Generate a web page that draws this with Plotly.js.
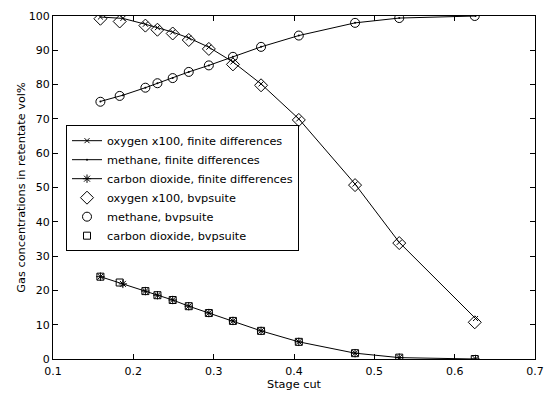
<!DOCTYPE html>
<html>
<head>
<meta charset="utf-8">
<script src="https://cdn.plot.ly/plotly-3.0.1.min.js"></script>
<style>html,body{margin:0;padding:0;background:#fff;}#chart{width:547px;height:394px;}</style>
</head>
<body>
<div id="chart"></div>
<script>
// Stage cut values
const stageCutBvp = [0.159, 0.183, 0.215, 0.230, 0.249, 0.269, 0.294, 0.324, 0.359, 0.406, 0.476, 0.531, 0.625];
const stageCutFd  = [0.159, 0.187, 0.215, 0.230, 0.249, 0.269, 0.294, 0.324, 0.359, 0.406, 0.476, 0.531, 0.626];

// finite differences
const oxygenFd  = [99.7, 99.3, 97.6, 96.6, 95.3, 93.6, 90.9, 86.6, 80.2, 70.0, 51.0, 34.0, 11.8];
const methaneFd = [75.1, 76.9, 79.1, 80.4, 81.9, 83.7, 85.6, 88.1, 91.0, 94.3, 98.0, 99.4, 100.0];
const co2Fd     = [24.0, 21.9, 19.8, 18.6, 17.2, 15.4, 13.4, 11.1, 8.2, 5.0, 1.7, 0.4, 0.0];

// bvpsuite
const oxygenBvp  = [99.2, 98.4, 97.2, 96.0, 94.9, 93.0, 90.4, 85.9, 79.8, 69.7, 50.7, 33.8, 10.7];
const methaneBvp = [75.0, 76.7, 79.1, 80.4, 81.9, 83.7, 85.6, 88.1, 91.0, 94.3, 98.0, 99.4, 100.0];
const co2Bvp     = [24.0, 22.3, 19.8, 18.6, 17.2, 15.4, 13.4, 11.1, 8.2, 5.0, 1.7, 0.4, 0.0];

const names = [
  'oxygen x100, finite differences',
  'methane, finite differences',
  'carbon dioxide, finite differences',
  'oxygen x100, bvpsuite',
  'methane, bvpsuite',
  'carbon dioxide, bvpsuite'
];

const FONT = 'DejaVu Sans, Liberation Sans, Arial, sans-serif';
const lineStyle = {color: '#000', width: 1};
const traces = [
  {x: stageCutFd, y: oxygenFd, name: names[0], mode: 'lines+markers', line: lineStyle,
   marker: {symbol: 'x-thin-open', size: 5, color: '#000', line: {color: '#000', width: 1}}},
  {x: stageCutFd, y: methaneFd, name: names[1], mode: 'lines+markers', line: lineStyle,
   marker: {symbol: 'circle', size: 2, color: '#000'}},
  {x: stageCutFd, y: co2Fd, name: names[2], mode: 'lines+markers', line: lineStyle,
   marker: {symbol: 'asterisk-open', size: 7, color: '#000', line: {color: '#000', width: 1}}},
  {x: stageCutBvp, y: oxygenBvp, name: names[3], mode: 'markers',
   marker: {symbol: 'diamond-open', size: 10, color: '#000', line: {color: '#000', width: 1}}},
  {x: stageCutBvp, y: methaneBvp, name: names[4], mode: 'markers',
   marker: {symbol: 'circle-open', size: 9, color: '#000', line: {color: '#000', width: 1}}},
  {x: stageCutBvp, y: co2Bvp, name: names[5], mode: 'markers',
   marker: {symbol: 'square-open', size: 7, color: '#000', line: {color: '#000', width: 1}}}
];

const axisCommon = {
  showline: true, linecolor: '#000', linewidth: 1, mirror: 'ticks',
  ticks: 'inside', ticklen: 5, tickcolor: '#000', tickwidth: 1,
  showgrid: false, zeroline: false,
  tickfont: {family: FONT, size: 11, color: '#000'}
};

const layout = {
  width: 547, height: 394,
  margin: {l: 53, r: 12, t: 16, b: 35},
  paper_bgcolor: '#fff', plot_bgcolor: '#fff',
  font: {family: FONT, size: 11, color: '#000'},
  xaxis: Object.assign({}, axisCommon, {
    range: [0.1, 0.7], dtick: 0.1, tick0: 0.1, tickformat: '.1f',
    ticklabelstandoff: 2,
    title: {text: 'Stage cut', standoff: 1, font: {family: FONT, size: 11.3, color: '#000'}}
  }),
  yaxis: Object.assign({}, axisCommon, {
    range: [0, 100], dtick: 10, tick0: 0,
    title: {text: 'Gas concentrations in retentate vol%', standoff: 0, font: {family: FONT, size: 11.3, color: '#000'}}
  }),
  showlegend: true,
  legend: {
    x: 0.027, y: 0.498, xanchor: 'left', yanchor: 'middle',
    bgcolor: '#fff', bordercolor: '#000', borderwidth: 1,
    font: {family: FONT, size: 11.3, color: '#000'},
    tracegroupgap: 0
  }
};

Plotly.newPlot('chart', traces, layout, {displayModeBar: false, staticPlot: true});
</script>
</body>
</html>
